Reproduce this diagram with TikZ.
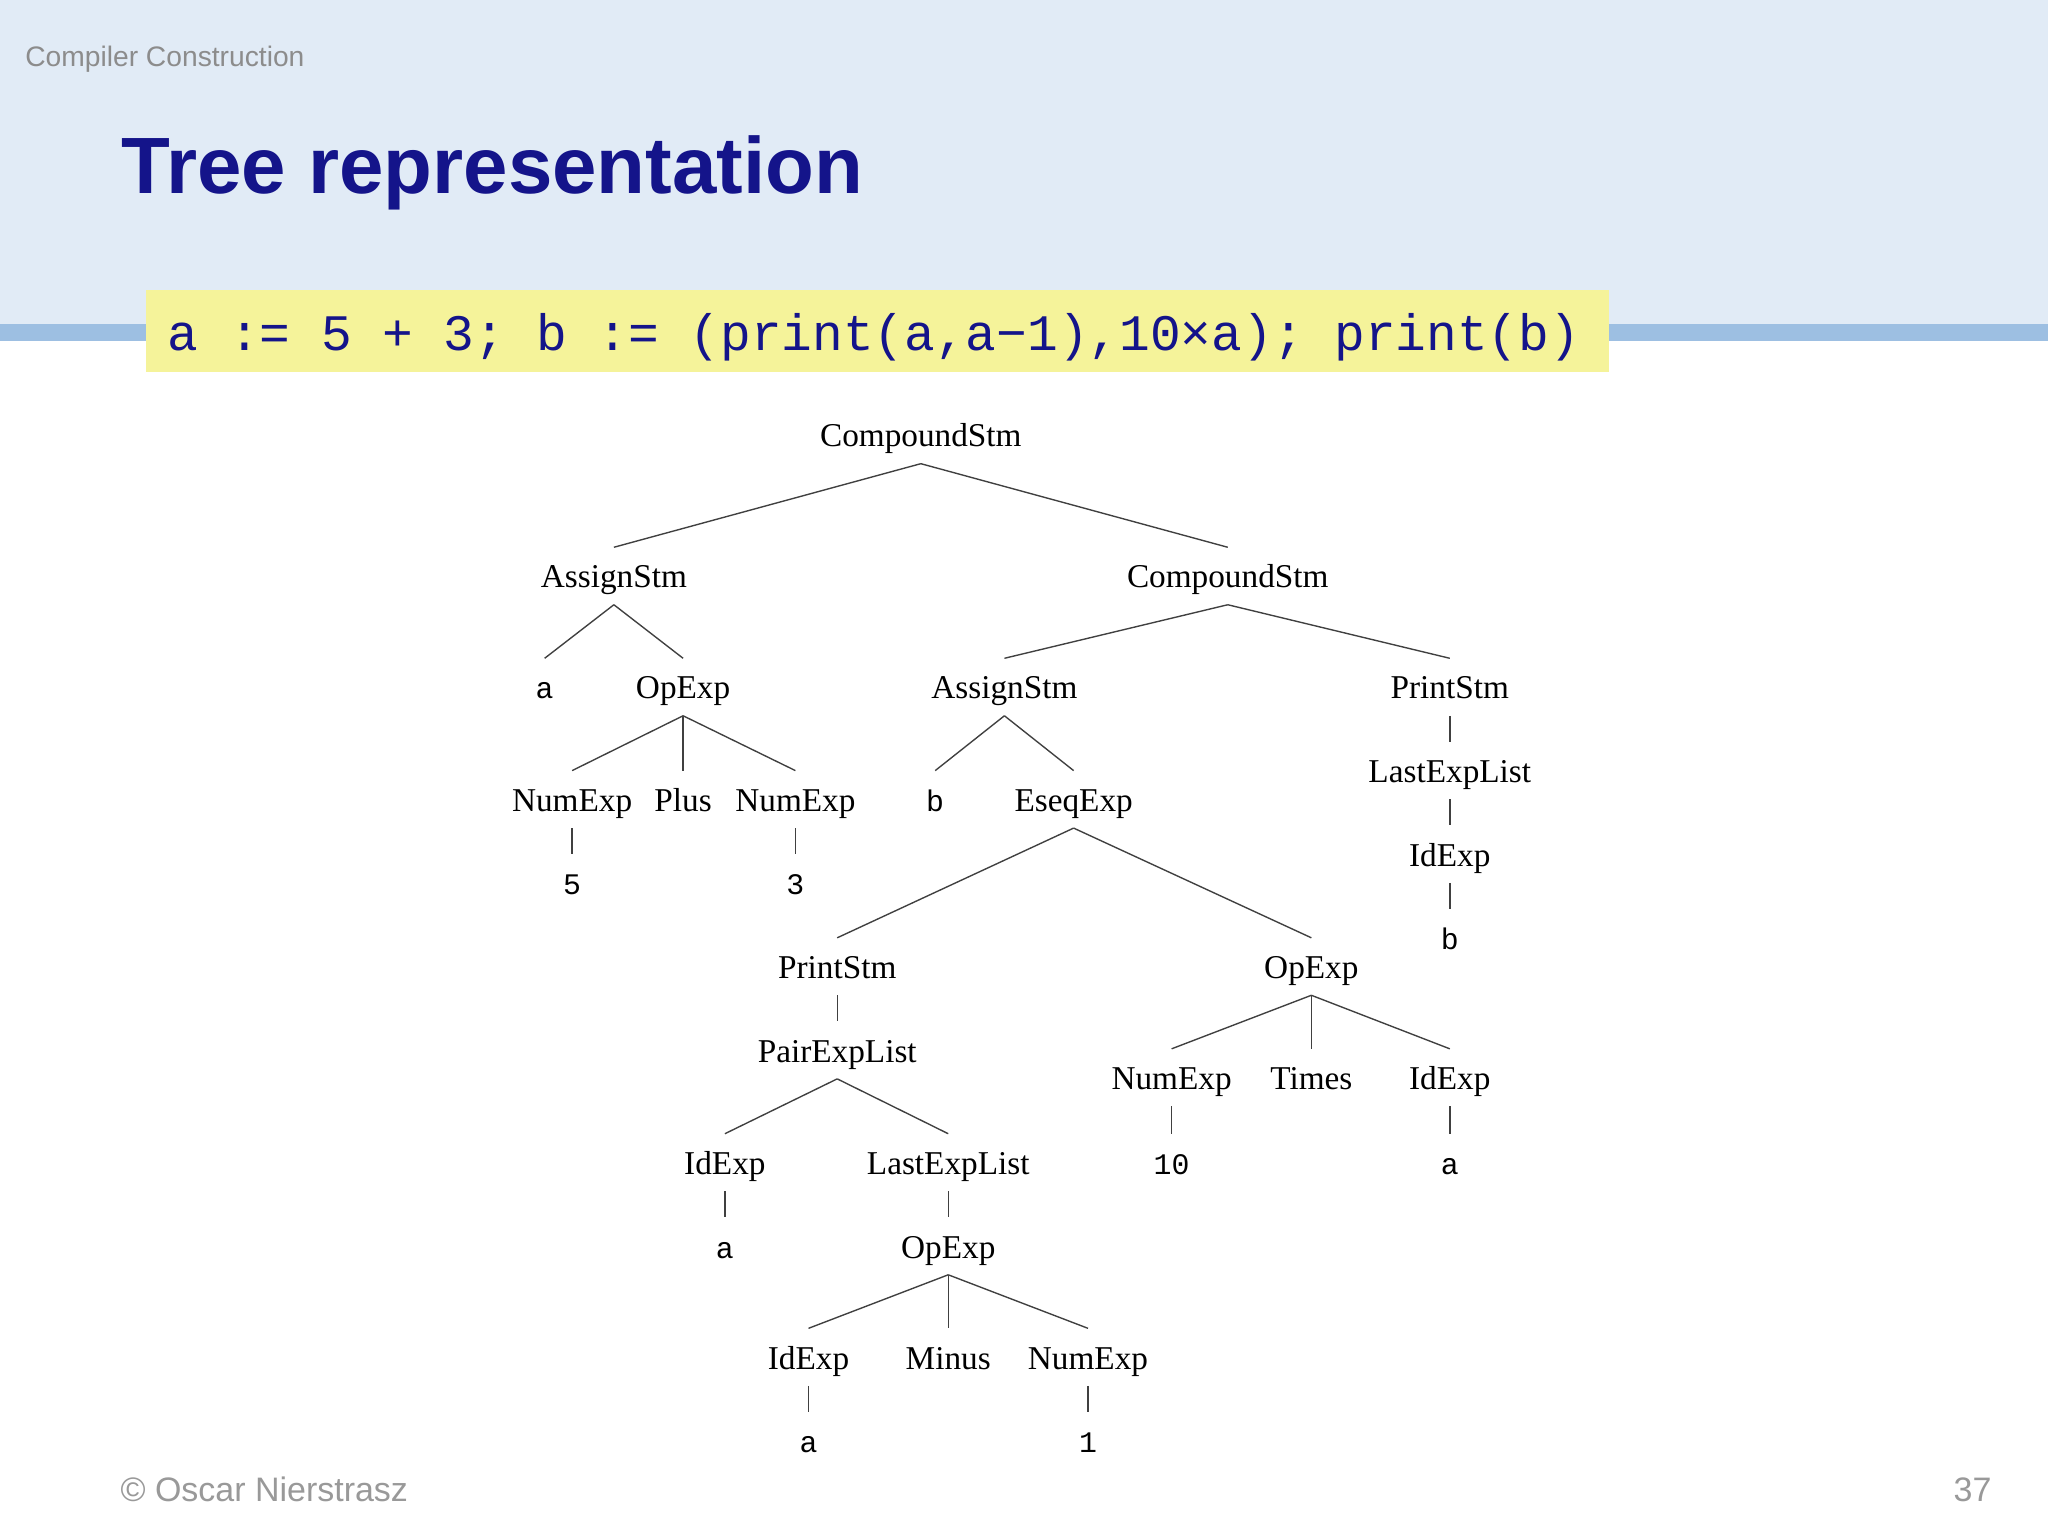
\documentclass[tikz,border=0pt]{standalone}
\usepackage{fontspec}
\setmainfont{Liberation Serif}
\newfontfamily\hsans{Liberation Sans}
\newfontfamily\hmono{Liberation Mono}
\usetikzlibrary{calc}
\definecolor{bandblue}{HTML}{E1EBF6}
\definecolor{stripe}{HTML}{9DBFE2}
\definecolor{codeyellow}{HTML}{F5F39A}
\definecolor{navy}{HTML}{14148A}
\begin{document}
\begin{tikzpicture}[x=0.02cm,y=-0.02cm,
  t/.style={font=\fontsize{14.5}{16}\selectfont, inner sep=0pt, text height=10pt, text depth=3pt},
  m/.style={font=\hmono\fontsize{13}{15}\selectfont, inner sep=0pt, text height=10pt, text depth=3pt},
  e/.style={line width=0.6pt, black!75}]
\useasboundingbox (0,0) rectangle (1568,1176);
\fill[white] (0,0) rectangle (1568,1176);
\fill[bandblue] (0,0) rectangle (1568,248);
\fill[stripe] (0,248) rectangle (1568,261);
\node[anchor=west, text=black!45, font=\hsans\fontsize{12.3}{14}\selectfont, inner sep=0pt] (hdr) at (19,45) {Compiler Construction};
\node[anchor=base west, text=navy, font=\hsans\bfseries\fontsize{34.8}{40}\selectfont, inner sep=0pt] (title) at (93,148) {Tree representation};
\fill[codeyellow] (112,222) rectangle (1232,285);
\node[anchor=west, text=navy, font=\hmono\fontsize{22.3}{26}\selectfont, inner sep=0pt] (code) at (128,258) {a := 5 + 3; b := (print(a,a−1),10×a); print(b)};
\node[anchor=west, text=black!40, font=\hsans\fontsize{14.8}{17}\selectfont, inner sep=0pt] (copy) at (92,1140) {© Oscar Nierstrasz};
\node[anchor=east, text=black!40, font=\hsans\fontsize{14.8}{17}\selectfont, inner sep=0pt] (pg) at (1525,1141) {37};
% tree
\node[t] (cs1) at (705,336) {CompoundStm};
\node[t] (as1) at (470,444) {AssignStm};
\node[t] (cs2) at (940,444) {CompoundStm};
\node[m] (a1) at (417,529) {a};
\node[t] (op1) at (523,529) {OpExp};
\node[t] (as2) at (769,529) {AssignStm};
\node[t] (ps1) at (1110,529) {PrintStm};
\node[t] (ne1) at (438,615) {NumExp};
\node[t] (plus) at (523,615) {Plus};
\node[t] (ne2) at (609,615) {NumExp};
\node[m] (b1) at (716,615) {b};
\node[t] (eseq) at (822,615) {EseqExp};
\node[m] (n5) at (438,679) {5};
\node[m] (n3) at (609,679) {3};
\node[t] (lel1) at (1110,593) {LastExpList};
\node[t] (id1) at (1110,657) {IdExp};
\node[m] (b2) at (1110,721) {b};
\node[t] (ps2) at (641,743) {PrintStm};
\node[t] (op2) at (1004,743) {OpExp};
\node[t] (pel) at (641,807) {PairExpList};
\node[t] (ne3) at (897,828) {NumExp};
\node[t] (times) at (1004,828) {Times};
\node[t] (id2) at (1110,828) {IdExp};
\node[t] (id3) at (555,893) {IdExp};
\node[t] (lel2) at (726,893) {LastExpList};
\node[m] (n10) at (897,893) {10};
\node[m] (a2) at (1110,893) {a};
\node[m] (a3) at (555,957) {a};
\node[t] (op3) at (726,957) {OpExp};
\node[t] (id4) at (619,1042) {IdExp};
\node[t] (minus) at (726,1042) {Minus};
\node[t] (ne4) at (833,1042) {NumExp};
\node[m] (a4) at (619,1106) {a};
\node[m] (n1) at (833,1106) {1};
\foreach \p/\c in {cs1/as1,cs1/cs2,as1/a1,as1/op1,cs2/as2,cs2/ps1,op1/ne1,op1/plus,op1/ne2,
  ne1/n5,ne2/n3,as2/b1,as2/eseq,ps1/lel1,lel1/id1,id1/b2,eseq/ps2,eseq/op2,ps2/pel,
  op2/ne3,op2/times,op2/id2,pel/id3,pel/lel2,ne3/n10,id2/a2,id3/a3,lel2/op3,
  op3/id4,op3/minus,op3/ne4,id4/a4,ne4/n1}
  \draw[e] ($(\p.center)+(0,19)$) -- ($(\c.center)+(0,-25)$);
\end{tikzpicture}
\end{document}
